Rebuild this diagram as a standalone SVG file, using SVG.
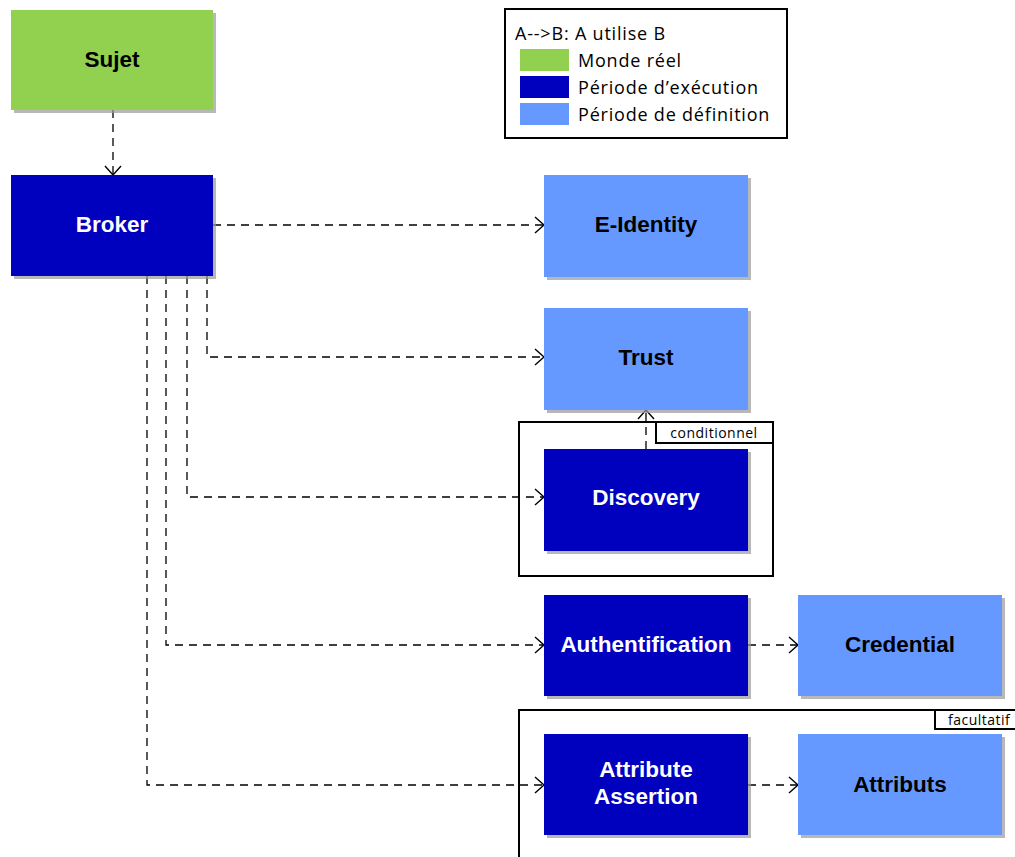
<svg xmlns="http://www.w3.org/2000/svg" width="1015" height="857" viewBox="0 0 1015 857">
<defs>
<style>
.node rect.box{stroke:none}
.shadow{fill:#9a9a9a;opacity:0.7}
.green{fill:#92D050}
.dark{fill:#0000BF}
.light{fill:#6699FF}
.lbl{font-family:"Liberation Sans",Arial,sans-serif;font-weight:bold;font-size:22.5px;text-anchor:middle}
.w{fill:#ffffff}
.k{fill:#000000}
.conn{fill:none;stroke:#000;stroke-width:1.3;stroke-dasharray:8 6}
.frame{fill:none;stroke:#000;stroke-width:2}
.tag{fill:#fff;stroke:#000;stroke-width:2}
.small{font-family:"Open Sans","Noto Sans",sans-serif;font-size:14px;letter-spacing:0.5px;fill:#000}
.leg{font-family:"Open Sans","Noto Sans",sans-serif;font-size:18px;letter-spacing:0.8px;fill:#000}
</style>
<marker id="arr" markerWidth="14" markerHeight="20" refX="10" refY="9" orient="auto" markerUnits="userSpaceOnUse">
<path d="M1,1 L10,9 L1,17" fill="none" stroke="#000" stroke-width="1.4"/>
</marker>
</defs>
<rect width="1015" height="857" fill="#fff"/>

<g id="frames">
<rect class="frame" x="519" y="422" width="254" height="154"/>
<rect class="tag" x="656" y="422" width="117" height="21"/>
<text class="small" x="714" y="438" text-anchor="middle">conditionnel</text>
<rect class="frame" x="519" y="710" width="520" height="170"/>
<rect class="tag" x="935" y="710" width="100" height="19"/>
<text class="small" x="948" y="725">facultatif</text>
</g>

<g id="legend">
<rect x="505" y="9" width="282" height="129" fill="#fff" stroke="#000" stroke-width="2"/>
<text class="leg" x="515" y="40">A--&gt;B: A utilise B</text>
<rect class="green" x="520" y="49" width="49" height="22"/>
<text class="leg" x="578" y="67">Monde réel</text>
<rect class="dark" x="520" y="76" width="49" height="22"/>
<text class="leg" x="578" y="94">Période d’exécution</text>
<rect class="light" x="520" y="103" width="49" height="22"/>
<text class="leg" x="578" y="121">Période de définition</text>
</g>

<g id="connectors">
<path class="conn" d="M113,110 V175" marker-end="url(#arr)"/>
<path class="conn" d="M213,225 H544" marker-end="url(#arr)"/>
<path class="conn" d="M207,276 V357 H544" marker-end="url(#arr)"/>
<path class="conn" d="M187,276 V497 H544" marker-end="url(#arr)"/>
<path class="conn" d="M166,276 V645 H544" marker-end="url(#arr)"/>
<path class="conn" d="M147,276 V785 H544" marker-end="url(#arr)"/>
<path class="conn" d="M646,449 V410" marker-end="url(#arr)"/>
<path class="conn" d="M748,645 H798" marker-end="url(#arr)"/>
<path class="conn" d="M748,785 H798" marker-end="url(#arr)"/>
</g>

<g id="sujet" class="node">
<rect class="shadow" x="14" y="13" width="202" height="100"/>
<rect class="box green" x="11" y="10" width="202" height="100"/>
<text class="lbl k" x="112" y="67">Sujet</text>
</g>
<g id="broker" class="node">
<rect class="shadow" x="14" y="178" width="202" height="101"/>
<rect class="box dark" x="11" y="175" width="202" height="101"/>
<text class="lbl w" x="112" y="232">Broker</text>
</g>
<g id="eidentity" class="node">
<rect class="shadow" x="547" y="178" width="204" height="102"/>
<rect class="box light" x="544" y="175" width="204" height="102"/>
<text class="lbl k" x="646" y="232">E-Identity</text>
</g>
<g id="trust" class="node">
<rect class="shadow" x="547" y="311" width="204" height="102"/>
<rect class="box light" x="544" y="308" width="204" height="102"/>
<text class="lbl k" x="646" y="365">Trust</text>
</g>
<g id="discovery" class="node">
<rect class="shadow" x="547" y="452" width="204" height="102"/>
<rect class="box dark" x="544" y="449" width="204" height="102"/>
<text class="lbl w" x="646" y="505">Discovery</text>
</g>
<g id="authentification" class="node">
<rect class="shadow" x="547" y="598" width="204" height="101"/>
<rect class="box dark" x="544" y="595" width="204" height="101"/>
<text class="lbl w" x="646" y="652">Authentification</text>
</g>
<g id="credential" class="node">
<rect class="shadow" x="801" y="598" width="204" height="101"/>
<rect class="box light" x="798" y="595" width="204" height="101"/>
<text class="lbl k" x="900" y="652">Credential</text>
</g>
<g id="attributeassertion" class="node">
<rect class="shadow" x="547" y="737" width="204" height="101"/>
<rect class="box dark" x="544" y="734" width="204" height="101"/>
<text class="lbl w" x="646" y="777">Attribute</text>
<text class="lbl w" x="646" y="804">Assertion</text>
</g>
<g id="attributs" class="node">
<rect class="shadow" x="801" y="737" width="204" height="101"/>
<rect class="box light" x="798" y="734" width="204" height="101"/>
<text class="lbl k" x="900" y="792">Attributs</text>
</g>
</svg>
